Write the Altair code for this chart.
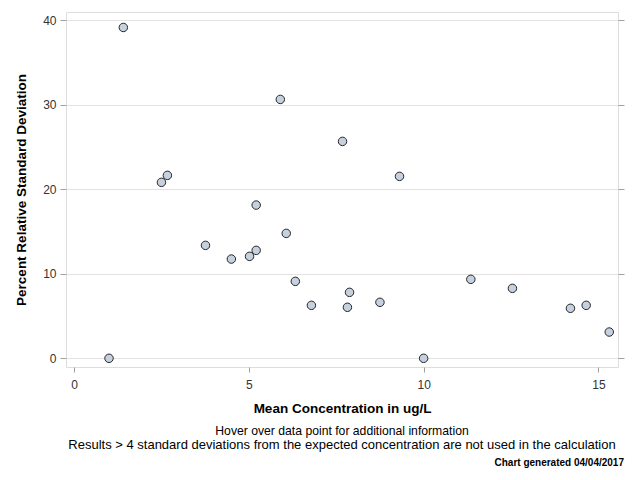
import altair as alt
import pandas as pd

conc = [1.0, 1.41, 2.50, 2.67, 3.76, 4.50, 5.02, 5.21, 5.21, 5.90, 6.07, 6.33,
        6.79, 7.68, 7.82, 7.88, 8.75, 9.31, 10.0, 11.35, 12.54, 14.20, 14.65, 15.31]
rsd = [0.0, 39.17, 20.83, 21.66, 13.37, 11.75, 12.07, 12.78, 18.14, 30.65, 14.79, 9.11,
       6.27, 25.68, 6.04, 7.81, 6.63, 21.54, 0.0, 9.35, 8.28, 5.92, 6.27, 3.11]

x_ticks = [0, 5, 10, 15]
y_ticks = [0, 10, 20, 30, 40]

x_title = "Mean Concentration in ug/L"
y_title = "Percent Relative Standard Deviation"
foot1 = "Hover over data point for additional information"
foot2 = "Results > 4 standard deviations from the expected concentration are not used in the calculation"
foot3 = "Chart generated 04/04/2017"

df = pd.DataFrame({"conc": conc, "rsd": rsd})

W, H = 552, 355
FONT = "Liberation Sans"

xs = alt.Scale(domain=[-0.23, 15.56], nice=False, zero=False)
ys = alt.Scale(domain=[-1.03, 41.0], nice=False, zero=False)

points = alt.Chart(df).mark_point(
    shape="circle", filled=True, size=72, fill="#c6d1df", stroke="#262626",
    strokeWidth=1, opacity=1
).encode(
    x=alt.X("conc:Q", scale=xs, axis=alt.Axis(
        values=x_ticks, title=x_title, grid=False, domain=False,
        tickColor="#a0a0a0", tickSize=5, labelFontSize=12, labelColor="#333333",
        labelFont=FONT, labelPadding=7, titleFont=FONT, titleFontSize=13.5,
        titleFontWeight="bold", titleColor="#000000", titlePadding=11)),
    y=alt.Y("rsd:Q", scale=ys, axis=alt.Axis(
        values=y_ticks, title=y_title, grid=True, gridColor="#e3e3e3",
        domain=False, tickColor="#a0a0a0", tickSize=6, labelFontSize=12,
        labelColor="#333333", labelFont=FONT, labelPadding=4, titleFont=FONT,
        titleFontSize=13.5, titleFontWeight="bold", titleColor="#000000",
        titlePadding=14)),
)

right_ticks = alt.Chart(pd.DataFrame({"v": y_ticks})).mark_point(opacity=0).encode(
    y=alt.Y("v:Q", scale=ys, axis=alt.Axis(
        orient="right", values=y_ticks, labels=False, title=None, grid=False,
        domain=False, tickColor="#a0a0a0", tickSize=6)),
)

def note(text, x, y, size, weight="normal", align="center"):
    return alt.Chart(pd.DataFrame({"t": [text]})).mark_text(
        font=FONT, fontSize=size, fontWeight=weight, align=align,
        baseline="middle", color="#000000"
    ).encode(text="t:N", x=alt.value(x), y=alt.value(y))

n1 = note(foot1, 276, 419, 12.2)
n2 = note(foot2, 276, 433, 13)
n3 = note(foot3, 558, 451, 10, weight="bold", align="right")

chart = alt.layer(points, right_ticks, n1, n2, n3).resolve_axis(
    y="independent"
).properties(
    width=W, height=H,
    autosize=alt.AutoSizeParams(type="none"),
    padding={"left": 58, "top": 4, "right": 14, "bottom": 105},
).configure_view(
    stroke="#a0a0a0", strokeWidth=1
).configure(background="white")

chart.save("out.html", embed_options={"renderer": "svg", "actions": False})
